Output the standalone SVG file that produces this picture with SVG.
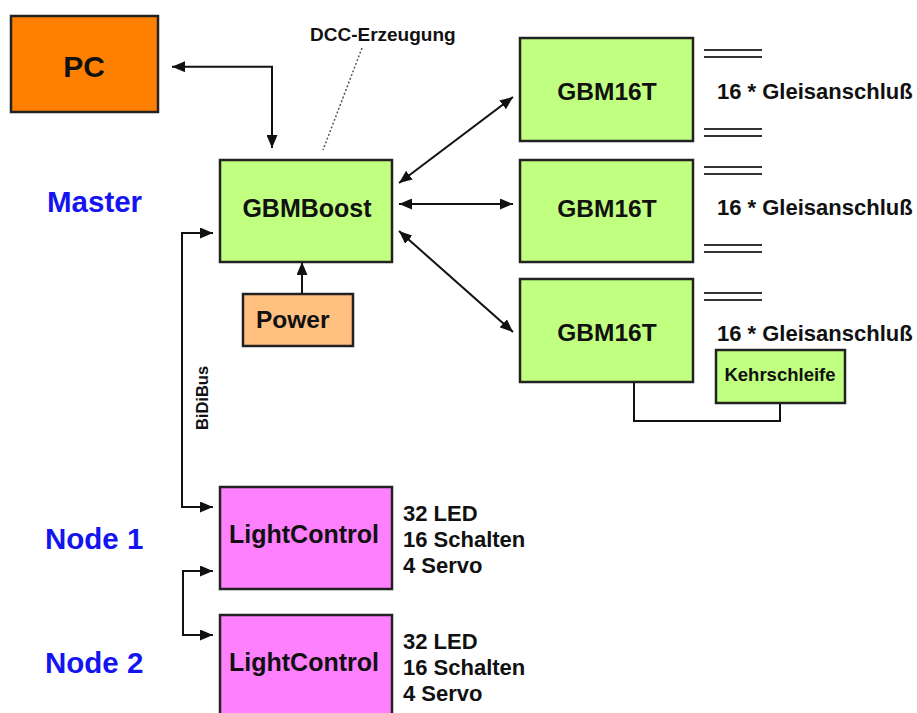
<svg xmlns="http://www.w3.org/2000/svg" width="917" height="713" viewBox="0 0 917 713">
<style>
text{font-family:"Liberation Sans",Arial,sans-serif;font-weight:bold;fill:#111}
.box{stroke:#222;stroke-width:2.5}
.green{fill:#C0FF80}
.pink{fill:#FF80FF}
.lbl{fill:#1414F0;font-size:29.5px}
.conn{fill:none;stroke:#111;stroke-width:2}
.rail{stroke:#333;stroke-width:2}
.info{font-size:22px}
.gl{font-size:22px}
</style>
<defs>
<marker id="ah" viewBox="0 0 13 11" refX="13" refY="5.5" markerWidth="13" markerHeight="11" markerUnits="userSpaceOnUse" orient="auto-start-reverse">
<path d="M0,0 L13,5.5 L0,11 z" fill="#111"/>
</marker>
</defs>
<g id="connectors">
<path class="conn" d="M172,66.7 H272 V148" marker-start="url(#ah)" marker-end="url(#ah)"/>
<path class="conn" d="M302,294 V262" marker-end="url(#ah)"/>
<path class="conn" d="M213,233 H182 V507 H213" marker-start="url(#ah)" marker-end="url(#ah)"/>
<path class="conn" d="M213,571 H183 V635 H213" marker-start="url(#ah)" marker-end="url(#ah)"/>
<path class="conn" d="M399,183 L513,97" marker-start="url(#ah)" marker-end="url(#ah)"/>
<path class="conn" d="M399,204 H513" marker-start="url(#ah)" marker-end="url(#ah)"/>
<path class="conn" d="M399,231 L513,332" marker-start="url(#ah)" marker-end="url(#ah)"/>
<path class="conn" d="M634,382 V421 H780 V403"/>
<path d="M362,48 L323,150" stroke="#555" stroke-width="1.5" stroke-dasharray="2,2" fill="none"/>
<text x="202" y="398" font-size="16.5" text-anchor="middle" transform="rotate(-90 202 398)" dy="6">BiDiBus</text>
</g>
<g id="labels">
<text class="lbl" x="47" y="212" font-size="30">Master</text>
<text class="lbl" x="45" y="549">Node 1</text>
<text class="lbl" x="45" y="673">Node 2</text>
<text x="310" y="41" font-size="19">DCC-Erzeugung</text>
</g>
<g id="pc">
<rect class="box" x="11" y="16" width="147" height="96" fill="#FF8000"/>
<text x="84" y="77" font-size="30" text-anchor="middle">PC</text>
</g>
<g id="gbmboost">
<rect class="box green" x="220" y="160" width="172" height="102"/>
<text x="307" y="217" font-size="25" text-anchor="middle">GBMBoost</text>
</g>
<g id="power">
<rect class="box" x="243" y="294" width="110" height="52" fill="#FFC080"/>
<text x="256" y="328" font-size="24.5">Power</text>
</g>
<g id="gbm16t-1">
<rect class="box green" x="520" y="38" width="173" height="103"/>
<text x="607" y="100" font-size="24.5" text-anchor="middle">GBM16T</text>
<line class="rail" x1="704" y1="50" x2="762" y2="50"/>
<line class="rail" x1="704" y1="57" x2="762" y2="57"/>
<text class="gl" x="717" y="99">16 * Gleisanschluß</text>
<line class="rail" x1="704" y1="129" x2="762" y2="129"/>
<line class="rail" x1="704" y1="136" x2="762" y2="136"/>
</g>
<g id="gbm16t-2">
<rect class="box green" x="520" y="160" width="173" height="102"/>
<text x="607" y="217" font-size="24.5" text-anchor="middle">GBM16T</text>
<line class="rail" x1="704" y1="167" x2="762" y2="167"/>
<line class="rail" x1="704" y1="174" x2="762" y2="174"/>
<text class="gl" x="717" y="215">16 * Gleisanschluß</text>
<line class="rail" x1="704" y1="245" x2="762" y2="245"/>
<line class="rail" x1="704" y1="252" x2="762" y2="252"/>
</g>
<g id="gbm16t-3">
<rect class="box green" x="520" y="279" width="173" height="103"/>
<text x="607" y="341" font-size="24.5" text-anchor="middle">GBM16T</text>
<line class="rail" x1="704" y1="293" x2="762" y2="293"/>
<line class="rail" x1="704" y1="300" x2="762" y2="300"/>
<text class="gl" x="717" y="341">16 * Gleisanschluß</text>
</g>
<g id="kehrschleife">
<rect class="box green" x="716" y="350" width="129" height="53"/>
<text x="780" y="381" font-size="18.5" text-anchor="middle">Kehrschleife</text>
</g>
<g id="lightcontrol-1">
<rect class="box pink" x="220" y="487" width="172" height="102"/>
<text x="304" y="543" font-size="25" text-anchor="middle">LightControl</text>
<text class="info" x="403" y="521">32 LED</text>
<text class="info" x="403" y="547">16 Schalten</text>
<text class="info" x="403" y="573">4 Servo</text>
</g>
<g id="lightcontrol-2">
<rect class="box pink" x="220" y="615" width="172" height="102"/>
<text x="304" y="671" font-size="25" text-anchor="middle">LightControl</text>
<text class="info" x="403" y="649">32 LED</text>
<text class="info" x="403" y="675">16 Schalten</text>
<text class="info" x="403" y="701">4 Servo</text>
</g>
</svg>
